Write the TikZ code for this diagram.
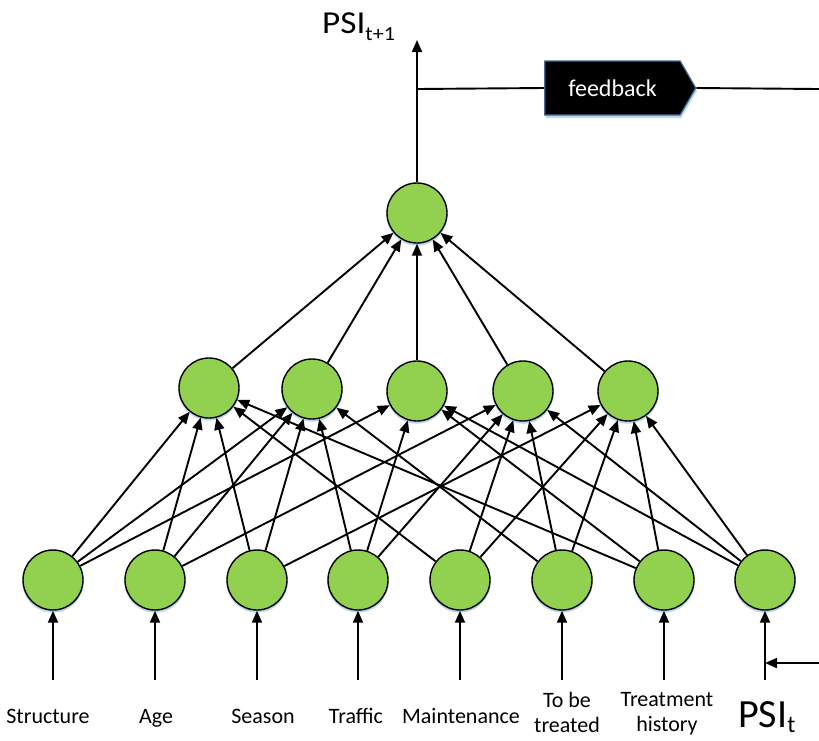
\documentclass[tikz,border=0pt]{standalone}
\usepackage{fontspec}
\setmainfont{Carlito}
\newfontfamily\psitopfont[FakeStretch=1.1]{Carlito}
\usetikzlibrary{arrows.meta,shapes.symbols,shadows}
\definecolor{nodegreen}{HTML}{92D050}
\definecolor{glow}{HTML}{BDD7EE}
\definecolor{fbborder}{HTML}{41719C}
\begin{document}
\begin{tikzpicture}[x=1pt,y=-1pt,
  neuron/.style={circle, draw=black, line width=1.4pt, fill=nodegreen,
    minimum size=60pt, inner sep=0pt,
    general shadow={shadow yshift=-2pt, fill=glow, shadow scale=1.02}},
  conn/.style={line width=1.9pt, -{Triangle[length=12pt,width=10pt]}},
  plainline/.style={line width=1.9pt},
  lab/.style={font=\fontsize{22}{24}\selectfont, anchor=base, inner sep=0pt},
  lab2/.style={font=\fontsize{22}{25}\selectfont, align=center, anchor=north, inner sep=0pt},
  fbbox/.style={signal, signal to=east, signal pointer angle=120,
    fill=black, draw=fbborder, line width=1.2pt, text=white,
    minimum width=151pt, minimum height=54pt, inner sep=0pt,
    font=\fontsize{24}{28}\selectfont,
    general shadow={shadow yshift=-3pt, shadow xshift=1pt, fill=glow}}]
\useasboundingbox (0,0) rectangle (819,740);

% input layer
\foreach \i/\x in {1/53,2/155,3/257,4/358,5/460,6/562,7/664,8/765}{
  \node[neuron] (I\i) at (\x,580) {};
  \coordinate (in\i) at (\x,680);
}
% hidden layer
\node[neuron] (H1) at (209,388) {};
\node[neuron] (H2) at (312,389) {};
\node[neuron] (H3) at (417,391) {};
\node[neuron] (H4) at (523,391) {};
\node[neuron] (H5) at (628,391) {};
% output
\node[neuron] (O) at (417,213) {};

% input -> hidden
\foreach \i/\h in {1/1,1/2,1/3, 2/1,2/2,2/4, 3/1,3/2,3/5, 4/2,4/3,4/4,
                   5/1,5/4,5/5, 6/2,6/4,6/5, 7/1,7/3,7/5, 8/3,8/4,8/5}
  \draw[conn] (I\i) -- (H\h);
% hidden -> output
\foreach \h in {1,...,5} \draw[conn] (H\h) -- (O);
% inputs
\foreach \i in {1,...,8} \draw[conn] (in\i) -- (I\i);

% output arrow
\coordinate (topTip) at (417,40);
\draw[conn] (O) -- (topTip);
\node[anchor=base west, inner sep=0pt] (Ltop) at (322,33)
  {\psitopfont\fontsize{32}{32}\selectfont PSI\raisebox{-7pt}{\fontsize{20}{20}\selectfont t+1}};

% feedback
\coordinate (fbStart) at (417,89);
\node[fbbox] (fb) at (612.5,88) {feedback};
\coordinate (fbEnd) at (819,89);
\draw[plainline] (fbStart) -- (fb.west);
\draw[plainline] (fb.east) -- (fbEnd);

\coordinate (psiIn) at (819,663);
\coordinate (psiJoin) at (765,663);
\draw[conn] (psiIn) -- (psiJoin);

% labels
\node[lab] (L1) at (48,723) {Structure};
\node[lab] (L2) at (156,723) {Age};
\node[lab] (L3) at (263,723) {Season};
\node[lab] (L4) at (356,723) {Traffic};
\node[lab] (L5) at (461,723) {Maintenance};
\node[lab2] (L6) at (567,692) {To be\\treated};
\node[lab2] (L7) at (667,692) {Treatment\\history};
\node[anchor=base west, inner sep=0pt] (L8) at (738,727)
  {\fontsize{40}{40}\selectfont PSI\raisebox{-5pt}{\fontsize{24}{24}\selectfont t}};
\end{tikzpicture}
\end{document}
